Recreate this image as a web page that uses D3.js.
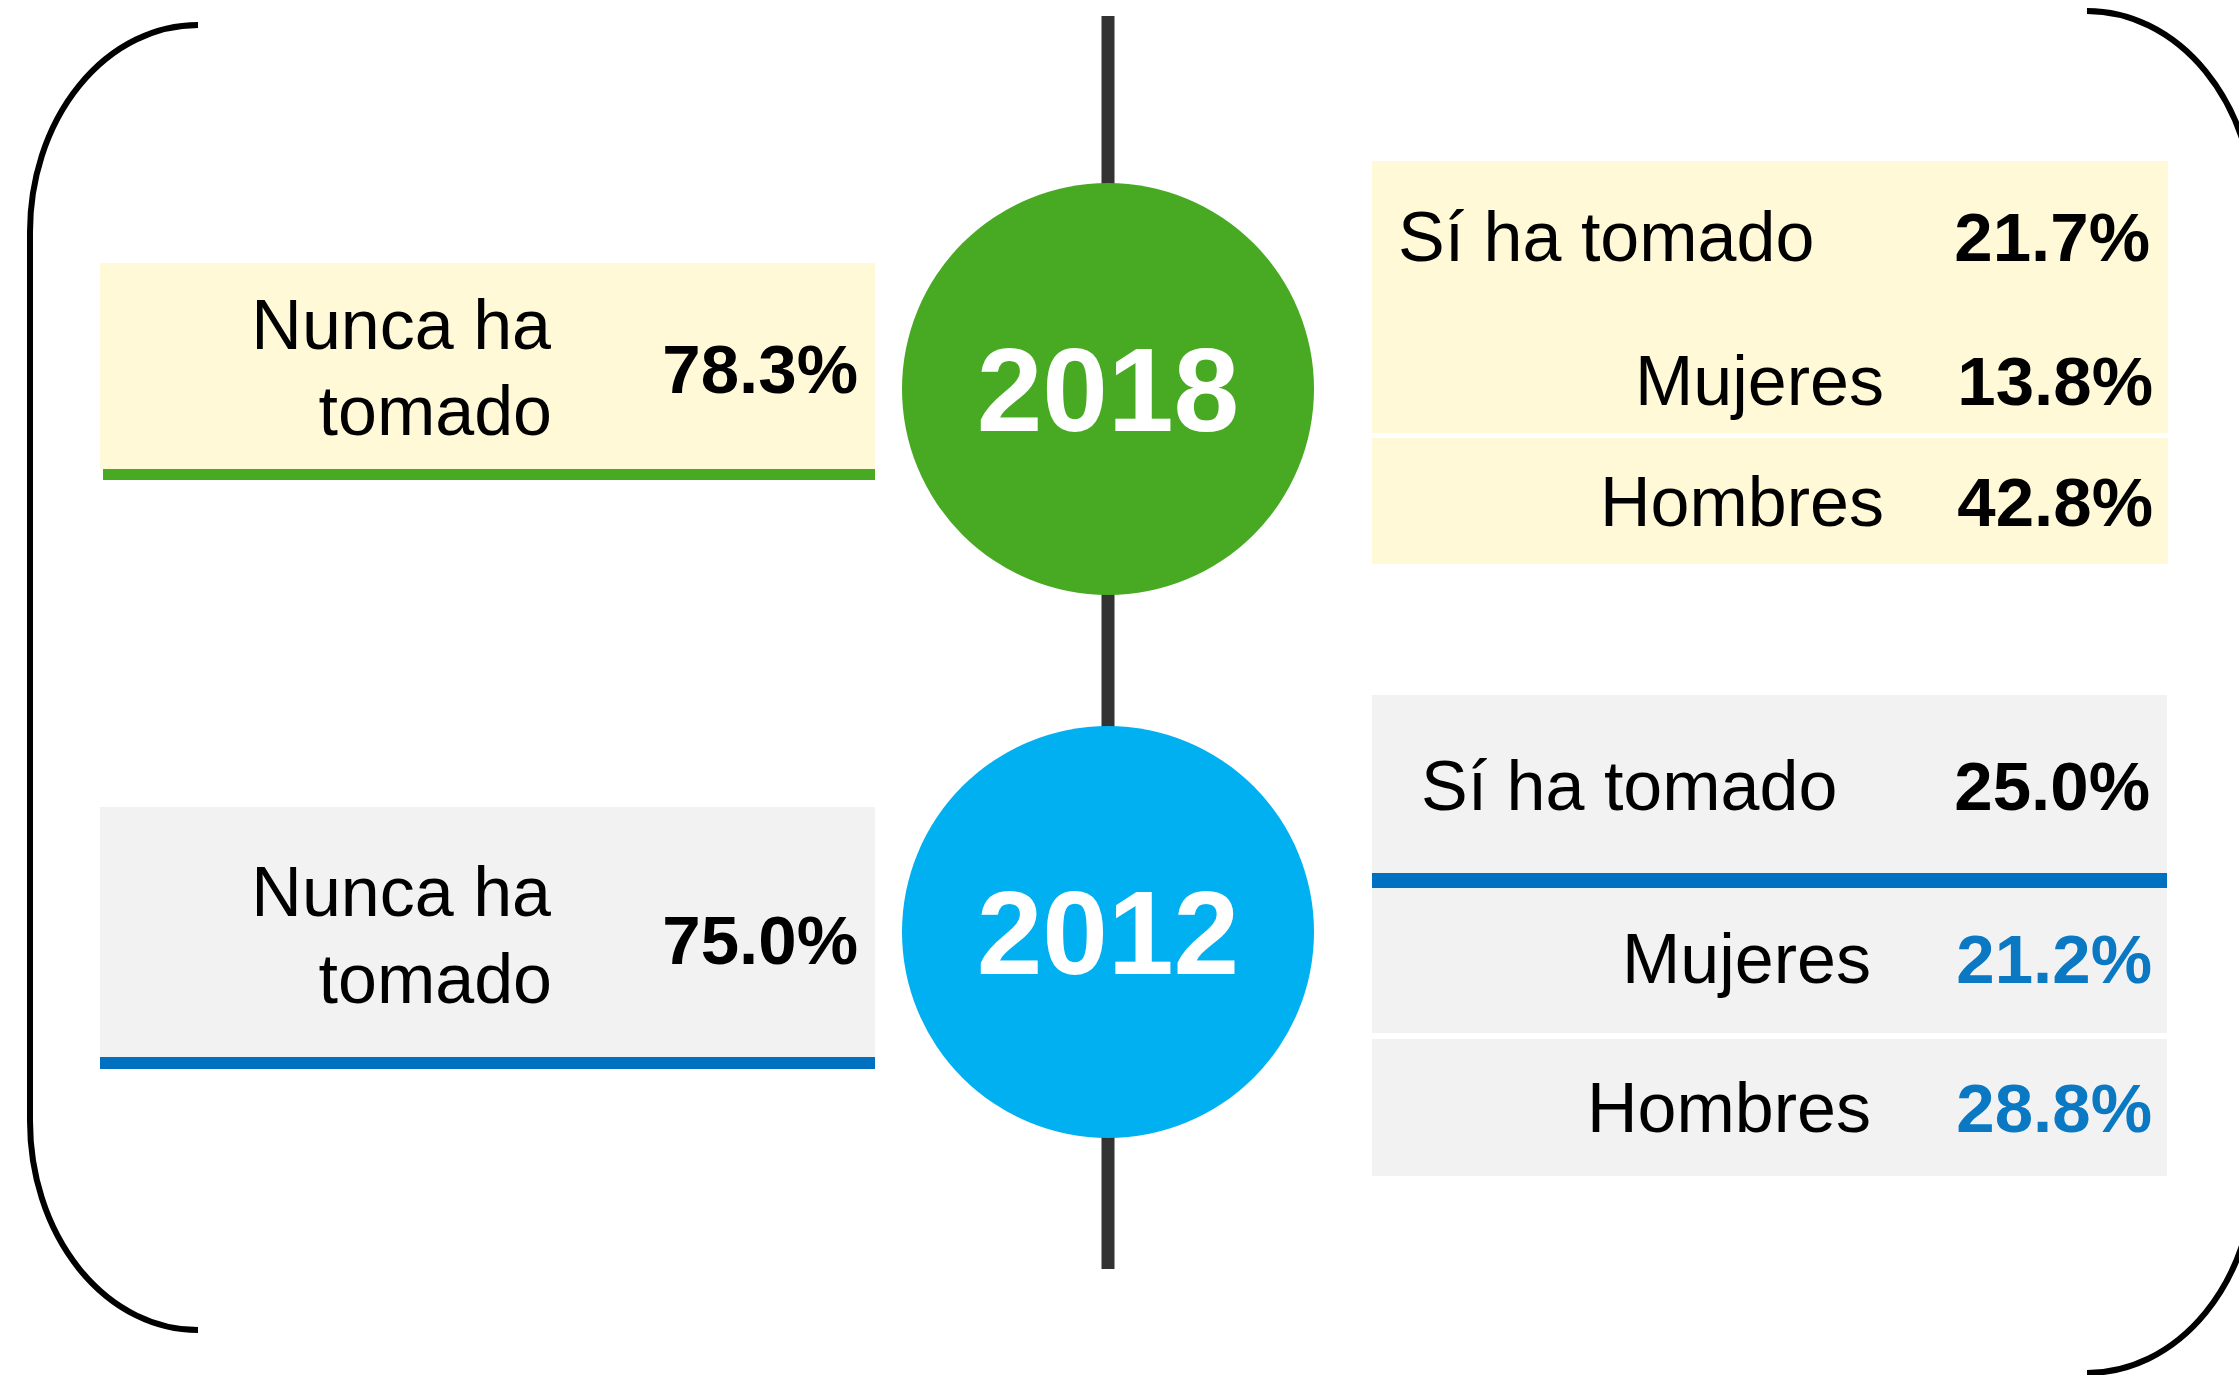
<!DOCTYPE html>
<html>
<head>
<meta charset="utf-8">
<script src="https://cdn.jsdelivr.net/npm/d3@7"></script>
<style>
  body { margin: 0; background: #fff; }
  svg text { font-family: "Liberation Sans", Arial, Helvetica, sans-serif; }
</style>
</head>
<body>
<div class="chart"></div>
<script>
// data
var years = ["2018", "2012"];
var nuncaHa = [78.3, 75.0];
var siHa = [21.7, 25.0];
var mujeres = [13.8, 21.2];
var hombres = [42.8, 28.8];

var W = 2239, H = 1375;
var cx = 1108;          // timeline
var r = 206;

// centre of each year circle
var yearY = d3.scaleOrdinal().domain(years).range([389, 932]);
var circleColor = d3.scaleOrdinal().domain(years).range(["#48A923", "#00B0F0"]);
var boxFill = d3.scaleOrdinal().domain(years).range(["#FFF9D8", "#F2F2F2"]);
var lineColor = d3.scaleOrdinal().domain(years).range(["#48A923", "#0070C0"]);
var subColor = d3.scaleOrdinal().domain(years).range(["#000000", "#0A78C2"]);

var fmt = function (v) { return d3.format(".1f")(v) + "%"; };

var svg = d3.select(".chart").append("svg")
  .attr("width", W)
  .attr("height", H);

// brackets
svg.append("path")
  .attr("d", "M198,25 A168,207 0 0 0 30,232 L30,1121 A168,209 0 0 0 198,1330")
  .attr("fill", "none").attr("stroke", "#000").attr("stroke-width", 6);
svg.append("path")
  .attr("d", "M2087,11 A168,207 0 0 1 2255,218 L2255,1166 A168,207 0 0 1 2087,1373")
  .attr("fill", "none").attr("stroke", "#000").attr("stroke-width", 6);

// timeline
svg.append("line")
  .attr("x1", cx).attr("x2", cx)
  .attr("y1", 16).attr("y2", 1269)
  .attr("stroke", "#333").attr("stroke-width", 13);

// left boxes: "Nunca ha tomado"
var left = svg.selectAll("g.left")
  .data(years)
  .enter().append("g")
  .attr("class", "left")
  .attr("transform", function (d) { return "translate(0," + yearY(d) + ")"; });

left.append("rect")
  .attr("x", 100).attr("width", 775)
  .attr("y", function (d, i) { return i === 0 ? -126 : -125; })
  .attr("height", function (d, i) { return i === 0 ? 206 : 250; })
  .attr("fill", function (d) { return boxFill(d); });

left.append("rect")
  .attr("x", function (d, i) { return i === 0 ? 103 : 100; })
  .attr("width", function (d, i) { return i === 0 ? 772 : 775; })
  .attr("y", function (d, i) { return i === 0 ? 80 : 125; })
  .attr("height", function (d, i) { return i === 0 ? 11 : 12; })
  .attr("fill", function (d) { return lineColor(d); });

left.each(function (d, i) {
  var g = d3.select(this);
  g.append("text")
    .attr("x", 551).attr("y", i === 0 ? -40 : -16)
    .attr("text-anchor", "end").attr("font-size", 70).attr("fill", "#000")
    .text("Nunca ha");
  g.append("text")
    .attr("x", 552).attr("y", i === 0 ? 46 : 71)
    .attr("text-anchor", "end").attr("font-size", 70).attr("fill", "#000")
    .text("tomado");
  g.append("text")
    .attr("x", 858).attr("y", i === 0 ? 4 : 32)
    .attr("text-anchor", "end").attr("font-size", 69).attr("font-weight", "bold")
    .attr("fill", "#000")
    .text(fmt(nuncaHa[i]));
});

// circles
svg.selectAll("circle.year")
  .data(years)
  .enter().append("circle")
  .attr("class", "year")
  .attr("cx", cx)
  .attr("cy", function (d) { return yearY(d); })
  .attr("r", r)
  .attr("fill", function (d) { return circleColor(d); });

svg.selectAll("text.year")
  .data(years)
  .enter().append("text")
  .attr("class", "year")
  .attr("x", cx)
  .attr("y", function (d) { return yearY(d) + 42; })
  .attr("text-anchor", "middle")
  .attr("font-size", 118)
  .attr("font-weight", "bold")
  .attr("fill", "#fff")
  .text(function (d) { return d; });

// right boxes 2018
var r18 = svg.append("g");
r18.append("rect").attr("x", 1372).attr("y", 161).attr("width", 796).attr("height", 272).attr("fill", boxFill("2018"));
r18.append("rect").attr("x", 1372).attr("y", 438).attr("width", 796).attr("height", 126).attr("fill", boxFill("2018"));
r18.append("text").attr("x", 1398).attr("y", 261).attr("font-size", 70).text("Sí ha tomado");
r18.append("text").attr("x", 2150).attr("y", 261).attr("font-size", 69).attr("font-weight", "bold").attr("text-anchor", "end").text(fmt(siHa[0]));
r18.append("text").attr("x", 1884).attr("y", 405).attr("font-size", 70).attr("text-anchor", "end").text("Mujeres");
r18.append("text").attr("x", 2153).attr("y", 405).attr("font-size", 69).attr("font-weight", "bold").attr("text-anchor", "end").attr("fill", subColor("2018")).text(fmt(mujeres[0]));
r18.append("text").attr("x", 1884).attr("y", 526).attr("font-size", 70).attr("text-anchor", "end").text("Hombres");
r18.append("text").attr("x", 2153).attr("y", 526).attr("font-size", 69).attr("font-weight", "bold").attr("text-anchor", "end").attr("fill", subColor("2018")).text(fmt(hombres[0]));

// right boxes 2012
var r12 = svg.append("g");
r12.append("rect").attr("x", 1372).attr("y", 695).attr("width", 795).attr("height", 178).attr("fill", boxFill("2012"));
r12.append("rect").attr("x", 1372).attr("y", 873).attr("width", 795).attr("height", 15).attr("fill", lineColor("2012"));
r12.append("rect").attr("x", 1372).attr("y", 888).attr("width", 795).attr("height", 145).attr("fill", boxFill("2012"));
r12.append("rect").attr("x", 1372).attr("y", 1039).attr("width", 795).attr("height", 137).attr("fill", boxFill("2012"));
r12.append("text").attr("x", 1421).attr("y", 810).attr("font-size", 70).text("Sí ha tomado");
r12.append("text").attr("x", 2150).attr("y", 810).attr("font-size", 69).attr("font-weight", "bold").attr("text-anchor", "end").text(fmt(siHa[1]));
r12.append("text").attr("x", 1871).attr("y", 983).attr("font-size", 70).attr("text-anchor", "end").text("Mujeres");
r12.append("text").attr("x", 2152).attr("y", 983).attr("font-size", 69).attr("font-weight", "bold").attr("text-anchor", "end").attr("fill", subColor("2012")).text(fmt(mujeres[1]));
r12.append("text").attr("x", 1871).attr("y", 1132).attr("font-size", 70).attr("text-anchor", "end").text("Hombres");
r12.append("text").attr("x", 2152).attr("y", 1132).attr("font-size", 69).attr("font-weight", "bold").attr("text-anchor", "end").attr("fill", subColor("2012")).text(fmt(hombres[1]));
</script>
</body>
</html>
